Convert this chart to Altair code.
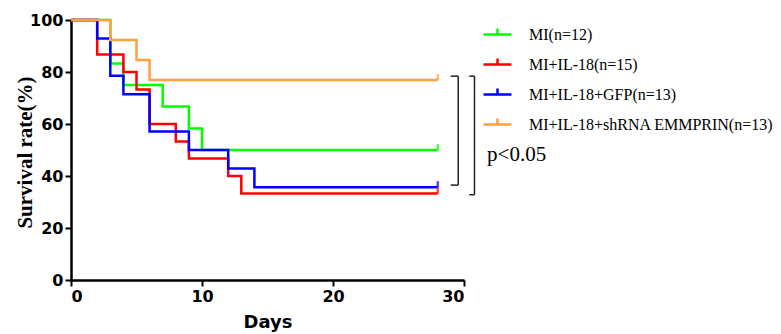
import altair as alt
import pandas as pd

groups = ["MI(n=12)", "MI+IL-18(n=15)", "MI+IL-18+GFP(n=13)", "MI+IL-18+shRNA EMMPRIN(n=13)"]
colors = ["#00ff00", "#ff0000", "#0000ff", "#ffa040"]

mi_days = [0, 3, 4, 7, 9, 10, 28]
mi_surv = [100, 83.3, 75, 66.7, 58.3, 50, 50]
il18_days = [0, 2, 4, 5, 6, 8, 9, 12, 13, 28]
il18_surv = [100, 86.7, 80, 73.3, 60, 53.3, 46.7, 40, 33.3, 33.3]
gfp_days = [0, 2, 3, 4, 6, 9, 12, 14, 28]
gfp_surv = [100, 92.9, 78.6, 71.4, 57.1, 50, 42.9, 35.7, 35.7]
sh_days = [0, 3, 5, 6, 28]
sh_surv = [100, 92.3, 84.6, 76.9, 76.9]

# significance brackets (days, %)
bracket_x = [29.56, 30.80]
bracket_left = [28.98, 30.40]
bracket_top = [78.4, 78.4]
bracket_bottom = [36.5, 32.8]
p_text = "p<0.05"
p_pos = (31.76, 48)

series = [(mi_days, mi_surv), (il18_days, il18_surv), (gfp_days, gfp_surv), (sh_days, sh_surv)]
rows = []
for gi, (g, (d, s)) in enumerate(zip(groups, series)):
    for x, y in zip(d, s):
        rows.append({"group": g, "day": x, "surv": y, "gi": gi})
df = pd.DataFrame(rows)
ends = df.groupby("group", sort=False).tail(1)

segs = []
for bx, bl, bt, bb in zip(bracket_x, bracket_left, bracket_top, bracket_bottom):
    segs.append({"x": bx, "x2": bx, "y": bt, "y2": bb})
    segs.append({"x": bl, "x2": bx, "y": bt, "y2": bt})
    segs.append({"x": bl, "x2": bx, "y": bb, "y2": bb})
seg_df = pd.DataFrame(segs)

xs = alt.Scale(domain=[0, 30], nice=False)
ys = alt.Scale(domain=[0, 100], nice=False)
cs = alt.Scale(domain=groups, range=colors)

x_enc = alt.X("day:Q", scale=xs, axis=alt.Axis(values=[0, 10, 20, 30], title="Days",
              titleFont="DejaVu Sans", titleFontWeight="bold", titleFontSize=18, titlePadding=9))
y_enc = alt.Y("surv:Q", scale=ys, axis=alt.Axis(values=[0, 20, 40, 60, 80, 100], title="Survival rate(%)",
              titleFont="Liberation Serif", titleFontWeight="bold", titleFontSize=21,
              titleX=-46, titleY=132, titleAlign="center", titleBaseline="middle", titleAngle=-90))

lines = alt.Chart(df).mark_line(interpolate="step-after", strokeWidth=2.5).encode(
    x=x_enc, y=y_enc,
    color=alt.Color("group:N", scale=cs, sort=groups, legend=alt.Legend(
        title=None, orient="none", legendX=411, legendY=-1,
        symbolType="M-1,0H1M0,0V-0.43", symbolSize=784, symbolStrokeWidth=2.5,
        labelFont="Liberation Serif", labelFontSize=16, labelOffset=16, rowPadding=6,
        labelLimit=400, labelColor="black")),
    order="gi:Q",
)

ticks = alt.Chart(ends).mark_tick(orient="vertical", size=6, thickness=2.5, yOffset=-3).encode(
    x="day:Q", y="surv:Q", color=alt.Color("group:N", scale=cs, legend=None)
)

br = alt.Chart(seg_df).mark_rule(color="#222222", strokeWidth=1.5, clip=False).encode(
    x="x:Q", x2="x2:Q", y="y:Q", y2="y2:Q"
)

ptxt = alt.Chart(pd.DataFrame({"x": [p_pos[0]], "y": [p_pos[1]], "t": [p_text]})).mark_text(
    align="left", baseline="middle", font="Liberation Serif", fontSize=21, color="black"
).encode(x="x:Q", y="y:Q", text="t:N")

chart = alt.layer(lines, ticks, br, ptxt).properties(
    width=393, height=260,
    autosize=alt.AutoSizeParams(type="none"),
    padding={"left": 63, "top": 12, "right": 309, "bottom": 54},
).configure_view(stroke=None).configure_axis(
    grid=False, domainColor="black", domainWidth=2.5, tickColor="black", tickWidth=2, tickSize=6,
    labelFont="DejaVu Sans", labelFontWeight="bold", labelFontSize=16, labelColor="black",
    labelPadding=2, titleColor="black"
)

chart.save("out.html", embed_options={"renderer": "svg", "actions": False})
